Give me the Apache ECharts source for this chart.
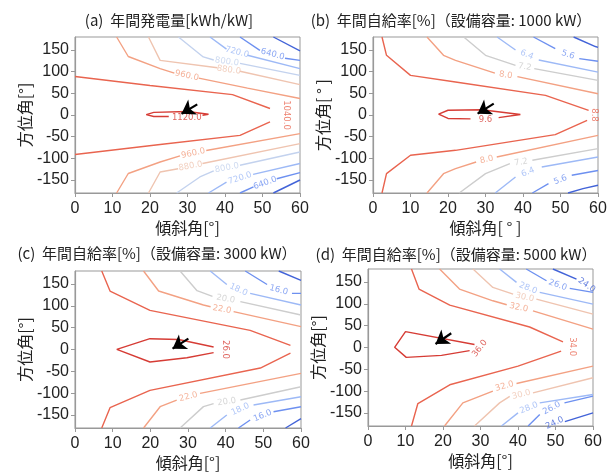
<!DOCTYPE html>
<html>
<head>
<meta charset="utf-8">
<script src="https://cdn.jsdelivr.net/npm/echarts@6/dist/echarts.min.js"></script>
<style>
  html, body { margin: 0; padding: 0; background: #fff; }
  #chart { width: 613px; height: 473px; }
</style>
</head>
<body>
<div id="chart"></div>
<script>
// contour lines: [level, [[tilt, azimuth], ...]]
const levelsA = [560, 640, 720, 800, 880, 960, 1040, 1120];
const linesA = [
  [1040, [[0, 89], [20, 68], [42, 47], [52, 15]]],
  [1040, [[0, -91], [22.7, -68], [44, -47], [52, -16]]],
  [1120, [[34, -1], [35.6, 1.6], [30, 8], [21, 6], [19, 1], [21, -3.5], [25, -3.5]]],
  [960, [[11.1, 180], [14.2, 135], [22.7, 107], [26.5, 96.5]]],
  [960, [[33, 85], [46, 62], [60, 38]]],
  [960, [[11.1, -180], [14.2, -135], [22.7, -108.5], [28, -94.5]]],
  [960, [[35, -82], [60, -43]]],
  [880, [[19.6, 180], [22.7, 126], [38, 109]]],
  [880, [[44, 101], [60, 70]]],
  [880, [[19.6, -180], [22.7, -131.5], [27.5, -124]]],
  [880, [[34, -112], [60, -66]]],
  [800, [[27.6, 180], [34.2, 134], [37, 127]]],
  [800, [[44, 119], [60, 91.5]]],
  [800, [[27.1, -180], [33.3, -143], [37, -129]]],
  [800, [[44, -116], [60, -85.5]]],
  [720, [[36, 180], [40.4, 152]]],
  [720, [[46, 138], [60, 107]]],
  [720, [[35.6, -180], [40.4, -155]]],
  [720, [[47.5, -137], [60, -112]]],
  [640, [[44, 180], [49.3, 149]]],
  [640, [[56, 131], [60, 126]]],
  [640, [[44, -180], [47.6, -166]]],
  [640, [[53.8, -147], [60, -133]]],
  [560, [[52.9, 180], [60, 148]]],
  [560, [[52.9, -180], [60, -150]]]
];
const labelsA = [
  [1040, 56.2, 0], [1120, 29.8, -5.5], [960, 29.8, 91], [960, 31.5, -88.5],
  [880, 41, 104], [880, 30.8, -118], [800, 40.5, 123], [800, 40.5, -122],
  [720, 43.2, 145], [720, 44, -146], [640, 52.7, 140], [640, 50.7, -157]
];
const rotA = [-90, 0, -12, 12, -8, 10, -8, 10, -15, 18, -15, 20];

const levelsB = [4.8, 5.6, 6.4, 7.2, 8.0, 8.8, 9.6];
const linesB = [
  [8.8, [[2.4, 180], [3.6, 137.7], [10, 91.5], [22, 76.2], [46, 45.4], [57.5, 10.8]]],
  [8.8, [[2.4, -180], [3.6, -135.4], [10, -93], [22, -81.5], [48.6, -45.4], [57.1, -12.3]]],
  [9.6, [[33.5, -6], [39.3, 1], [29, 12], [20, 11], [17.5, 2], [20, -8], [26, -9]]],
  [8.0, [[14.4, 180], [18.8, 137.7], [22, 126.2], [32.5, 96.5]]],
  [8.0, [[38.5, 88.5], [60, 49]]],
  [8.0, [[14.4, -180], [18.8, -135.4], [22, -123.8], [27.5, -108.5]]],
  [8.0, [[33, -97], [60, -47]]],
  [7.2, [[24.2, 180], [30, 137.7], [38, 114.6]]],
  [7.2, [[43, 107], [60, 80]]],
  [7.2, [[23, -180], [30, -135.4], [36.5, -112]]],
  [7.2, [[42.5, -104.5], [60, -77.7]]],
  [6.4, [[33.1, 180], [38, 150]]],
  [6.4, [[44.2, 127], [60, 99]]],
  [6.4, [[32.6, -180], [38, -143]]],
  [6.4, [[45, -120], [60, -97]]],
  [5.6, [[42.8, 180], [48.6, 153]]],
  [5.6, [[55, 130], [60, 124]]],
  [5.6, [[42.5, -180], [46.8, -158.5]]],
  [5.6, [[53, -139], [60, -128]]],
  [4.8, [[53.5, 180], [59.3, 158], [60, 156]]],
  [4.8, [[52, -180], [56, -170], [60, -162]]]
];
const labelsB = [
  [8.8, 59, 0], [9.6, 30, -11], [8.0, 35.4, 92], [8.0, 30.3, -103],
  [7.2, 40.5, 111], [7.2, 39.5, -109], [6.4, 41, 139], [6.4, 41.3, -132],
  [5.6, 52, 139], [5.6, 50, -150]
];
const rotB = [-90, 0, -8, 12, -10, 10, -22, 22, -18, 22];

const levelsC = [14, 16, 18, 20, 22, 24, 26];
const linesC = [
  [24, [[7.1, 180], [9.3, 134.1], [19.9, 89.8], [46.5, 43.9], [57.2, 9.5]]],
  [24, [[7.1, -180], [9.3, -133.5], [19.9, -93.7], [49.2, -42.5], [57.2, -8.5]]],
  [26, [[36.8, 5.7], [27.5, 23], [19.9, 24.8], [11.1, 0.2], [19.9, -28.7], [29.7, -18.8], [36.8, -7.3]]],
  [22, [[18.2, 180], [22.2, 134.1], [34.1, 102], [36, 98]]],
  [22, [[42.1, 86.7], [60, 52.3]]],
  [22, [[18.2, -180], [22.6, -131.2], [27, -115.9]]],
  [22, [[33.2, -100.6], [60, -54.7]]],
  [20, [[27.9, 180], [32.4, 134.9], [36.5, 122]]],
  [20, [[43.9, 109.7], [60, 79]]],
  [20, [[27.9, -180], [34.1, -131], [36.8, -124]]],
  [20, [[43.9, -115.9], [60, -85.3]]],
  [18, [[35.9, 180], [40.3, 149.1]]],
  [18, [[46.5, 128.8], [60, 102]]],
  [18, [[35.9, -180], [40.3, -150.3]]],
  [18, [[47.4, -127.3], [60, -108.2]]],
  [16, [[45.2, 180], [51, 149.1]]],
  [16, [[57.6, 128.8], [60, 128.8]]],
  [16, [[43.4, -180], [46.5, -161.7]]],
  [16, [[52.7, -142.6], [60, -131.2]]],
  [14, [[54.1, 180], [60, 158.6]]],
  [14, [[55.9, -180], [60, -158.7]]]
];
const labelsC = [
  [24, 60.4, 0], [26, 39.9, 0], [22, 39, 92], [22, 30.1, -108.3],
  [20, 40, 116], [20, 40.3, -120], [18, 43.4, 137], [18, 43.9, -137],
  [16, 54.1, 136], [16, 49.8, -152]
];
const rotC = [-90, -90, -10, 14, -10, 8, -25, 25, -15, 22];

const levelsD = [24, 26, 28, 30, 32, 34, 36];
const linesD = [
  [34, [[11.6, 180], [13.6, 134], [21.8, 97], [43.1, 47], [52, 13]]],
  [34, [[11.6, -180], [13.3, -128.5], [21.8, -85.5], [40, -42.6], [51.5, -8.5]]],
  [36, [[28.4, 7], [10, 36.5], [7.1, 0.4], [10.2, -22.6], [19.6, -18], [27.1, -7.3]]],
  [32, [[19.1, 180], [24.4, 134], [33.3, 107.1], [37, 98]]],
  [32, [[44, 84], [60, 42]]],
  [32, [[20.4, -180], [25.3, -127], [33.3, -100]]],
  [32, [[39.6, -82.5], [60, -42.6]]],
  [30, [[28, 180], [33.3, 137.8], [38.7, 122.4]]],
  [30, [[44.9, 110.9], [60, 76.4]]],
  [30, [[28.4, -180], [35.1, -127], [37.8, -112]]],
  [30, [[44, -104], [60, -69.4]]],
  [28, [[35.1, 180], [39.6, 149.3]]],
  [28, [[45.8, 126.3], [60, 99.4]]],
  [28, [[35.6, -180], [40, -150]]],
  [28, [[45.8, -127], [60, -107.8]]],
  [26, [[42.2, 180], [47.6, 153.1]]],
  [26, [[53.8, 135.5], [60, 126.3]]],
  [26, [[42.7, -180], [45.8, -153.8]]],
  [26, [[52.4, -127], [60, -111.6]]],
  [24, [[49.3, 180], [55.6, 157]]],
  [24, [[52.5, -170], [60, -150]]]
];
const labelsD = [
  [34, 54.5, 2], [36, 29.8, -2], [32, 40.2, 91.5], [32, 36.4, -89],
  [30, 41.8, 115], [30, 40.9, -107.8], [28, 42.7, 136], [28, 42.9, -138.5],
  [26, 50.6, 143], [26, 49, -139], [24, 58.3, 143], [24, 49.8, -173]
];
const rotD = [-90, 52, -12, 16, -12, 14, -22, 22, -20, 28, -35, 25];

// arrows: [tail, tip]
const arrowA = [[32.6, 24.6], [28.4, 3]];
const arrowB = [[32.2, 26.2], [27.9, 3.1]];
const arrowC = [[30.1, 24.8], [25.9, 1.9]];
const arrowD = [[22.2, 32.6], [18, 8.1]];

const xTicks = [0, 10, 20, 30, 40, 50, 60];
const yTicks = [-150, -100, -50, 0, 50, 100, 150];

const titles = [
  '(a)  年間発電量[kWh/kW]',
  '(b)  年間自給率[%]（設備容量: 1000 kW）',
  '(c)  年間自給率[%]（設備容量: 3000 kW）',
  '(d)  年間自給率[%]（設備容量: 5000 kW）'
];

const DB = '#4263d8', BL = '#6d90f0', LB = '#9db9f6', PB = '#c3d2ee',
      GR = '#cdcdcd', PP = '#efc4b0', PE = '#f3a183', RO = '#e9644f', RD = '#d63c35';
const colorsA = [DB, BL, LB, PB, PP, PE, RO, RD];
const colorsB = [DB, BL, LB, GR, PE, RO, RD];
const colorsD = [DB, BL, LB, PP, PE, RO, RD];

const panels = [
  { levels: levelsA, colors: colorsA, lines: linesA, labels: labelsA, rot: rotA, arrow: arrowA, deg: '[°]' },
  { levels: levelsB, colors: colorsB, lines: linesB, labels: labelsB, rot: rotB, arrow: arrowB, deg: '[ ° ]' },
  { levels: levelsC, colors: colorsB, lines: linesC, labels: labelsC, rot: rotC, arrow: arrowC, deg: '[°]' },
  { levels: levelsD, colors: colorsD, lines: linesD, labels: labelsD, rot: rotD, arrow: arrowD, deg: '[°]' }
];

const gridPos = [
  { left: 75, top: 37, width: 225, height: 156 },
  { left: 373, top: 37, width: 225, height: 156 },
  { left: 75, top: 271, width: 226, height: 157 },
  { left: 368, top: 269, width: 225, height: 157 }
];
const titlePos = [[169, 20], [451, 20], [157, 253], [456, 254]];

const numFont = 'Liberation Sans, Arial, sans-serif';
const jpFont = 'Noto Sans CJK JP, sans-serif';

const chart = echarts.init(document.getElementById('chart'));

const grid = [], xAxis = [], yAxis = [], series = [], graphic = [];

panels.forEach((p, i) => {
  const colorOf = lv => p.colors[p.levels.indexOf(lv)];
  grid.push(Object.assign({ show: true, borderColor: '#999', borderWidth: 1, backgroundColor: '#fff' }, gridPos[i]));
  xAxis.push({
    type: 'value', gridIndex: i, min: 0, max: 60, interval: 10,
    name: '傾斜角' + p.deg, nameLocation: 'middle', nameGap: 27,
    nameTextStyle: { fontSize: 16, fontFamily: jpFont, color: '#222' },
    axisLine: { show: true, onZero: false, lineStyle: { color: '#999', width: 1.2 } },
    axisTick: { show: true, length: 4, lineStyle: { color: '#999' } },
    axisLabel: { fontSize: 16, fontFamily: numFont, color: '#222', margin: 8 },
    splitLine: { show: false }
  });
  yAxis.push({
    type: 'value', gridIndex: i, min: -180, max: 180,
    name: '方位角' + p.deg, nameLocation: 'middle', nameGap: 42,
    nameTextStyle: { fontSize: 16, fontFamily: jpFont, color: '#222' },
    axisLine: { show: true, onZero: false, lineStyle: { color: '#999', width: 1.2 } },
    axisTick: { show: true, length: 4, lineStyle: { color: '#999' }, customValues: yTicks },
    axisLabel: { fontSize: 16, fontFamily: numFont, color: '#222', margin: 6, customValues: yTicks },
    splitLine: { show: false }
  });
  p.lines.forEach(([lv, pts]) => {
    series.push({
      type: 'line', xAxisIndex: i, yAxisIndex: i, data: pts,
      showSymbol: false, symbol: 'none', silent: true, animation: false,
      lineStyle: { color: colorOf(lv), width: 1.4 }
    });
  });
  series.push({
    type: 'scatter', xAxisIndex: i, yAxisIndex: i, symbolSize: 0, silent: true, animation: false,
    data: p.labels.map(([lv, x, y], k) => ({
      value: [x, y],
      label: {
        show: true, position: 'inside', formatter: lv.toFixed(1), rotate: p.rot[k],
        color: colorOf(lv), fontSize: 8.5, fontFamily: 'DejaVu Sans, sans-serif'
      }
    }))
  });
  series.push({
    type: 'line', xAxisIndex: i, yAxisIndex: i, data: [], silent: true, animation: false,
    markLine: {
      silent: true, animation: false, symbol: ['none', 'arrow'], symbolSize: 13,
      label: { show: false },
      itemStyle: { color: '#000' },
      lineStyle: { color: '#000', width: 2.2, type: 'solid' },
      data: [[{ coord: p.arrow[0] }, { coord: p.arrow[1] }]]
    }
  });
  graphic.push({
    type: 'text', x: titlePos[i][0], y: titlePos[i][1],
    style: { text: titles[i], fontSize: 15, fontFamily: jpFont, fill: '#222',
      textAlign: 'center', textVerticalAlign: 'middle' }
  });
});

chart.setOption({
  backgroundColor: '#fff',
  animation: false,
  grid, xAxis, yAxis, series, graphic
});
</script>
</body>
</html>
